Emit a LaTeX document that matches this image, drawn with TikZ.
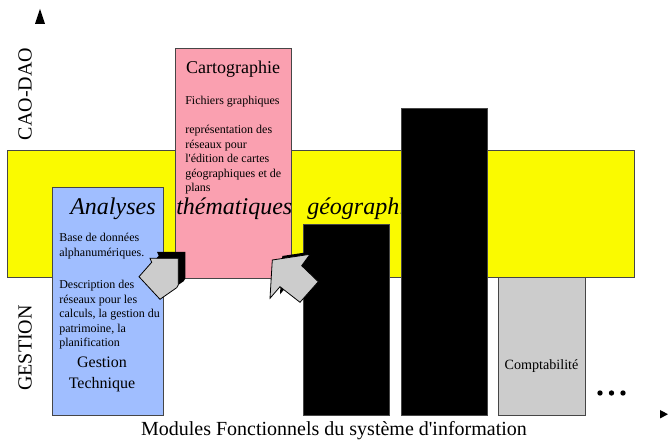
\documentclass[tikz,border=0pt]{standalone}
\usepackage{fontspec}
\setmainfont{Liberation Serif}
\definecolor{sigyellow}{RGB}{250,250,0}
\definecolor{cartopink}{RGB}{250,160,176}
\definecolor{techblue}{RGB}{160,190,255}
\definecolor{comptagray}{RGB}{204,204,204}
\definecolor{edgegray}{RGB}{70,70,70}
\begin{document}
\begin{tikzpicture}[x=0.75pt,y=-0.75pt,
  box/.style={draw=edgegray,line width=0.6pt},
  txt/.style={inner sep=0pt,anchor=base west},
  small/.style={txt,font=\fontsize{9}{10.8}\selectfont},
  big/.style={inner sep=0pt,anchor=base west,font=\fontsize{18}{21}\selectfont\itshape},
  side/.style={inner sep=0pt,rotate=90,font=\fontsize{15}{18}\selectfont},
  blockarrow/.style={fill=comptagray,draw=black,line width=0.6pt,line join=miter},
  arrowshadow/.style={fill=black}]
\useasboundingbox (0,0) rectangle (668,441);
\fill[white] (0,0) rectangle (668,441);

% axes heads
\fill (35,24) -- (45,24) -- (40,9) -- cycle;
\fill (660,410) -- (660,418.5) -- (668,414.2) -- cycle;

% side labels
\node[side] (cao) at (25,94) {CAO-DAO};
\node[side] (sig) at (25,216) {SIG};
\node[side] (gest) at (25,348) {GESTION};

% bands and boxes
\draw[box,fill=sigyellow] (7,150) rectangle (634,277);
\draw[box,fill=cartopink] (175,48) rectangle (291,278);
\draw[box,fill=techblue] (52,187) rectangle (163,415);

% pink texts
\node[inner sep=0pt,anchor=base,font=\fontsize{13.5}{16}\selectfont] (carto) at (233,74) {Cartographie};
\node[small] (fich) at (185,105) {Fichiers graphiques};
\node[small] (c1) at (185,134) {représentation des};
\node[small] (c2) at (185,148.5) {réseaux pour};
\node[small] (c3) at (185,163) {l\textquotesingle édition de cartes};
\node[small] (c4) at (185,177.5) {géographiques et de};
\node[small] (c5) at (185,192) {plans};

% blue texts
\node[small] (b1) at (59,242) {Base de données};
\node[small] (b2) at (59,256.5) {alphanumériques.};
\node[small] (b3) at (59,289) {Description des};
\node[small] (b4) at (59,303.5) {réseaux pour les};
\node[small] (b5) at (59,318) {calculs, la gestion du};
\node[small] (b6) at (59,332.5) {patrimoine, la};
\node[small] (b7) at (59,347) {planification};
\node[inner sep=0pt,anchor=base,font=\fontsize{12}{14}\selectfont] (gt1) at (102,368) {Gestion};
\node[inner sep=0pt,anchor=base,font=\fontsize{12}{14}\selectfont] (gt2) at (102,389) {Technique};

% big italic line
\node[big] (an) at (70,215) {Analyses};
\node[big] (th) at (176,215) {thématiques};
\node[big] (geo) at (307,215) {géographiques};

% black and gray modules
\draw[box,fill=black] (303,224) rectangle (389,415);
\draw[box,fill=black] (401,108) rectangle (487,415);
\draw[box,fill=comptagray] (498,277) rectangle (585,415);
\node[inner sep=0pt,anchor=base,font=\fontsize{10.6}{12}\selectfont] (compta) at (541.5,370) {Comptabilité};

% dots
\fill (600,393) circle (2.7);
\fill (611.5,393) circle (2.7);
\fill (623,393) circle (2.7);

% block arrows
\begin{scope}[shift={(7,-6.5)}]
\fill[arrowshadow] (178.3,258.3) -- (150,258.3) -- (151.7,262.3) -- (139,276.7) -- (160,299.3) -- (176.7,287.7) -- (178.3,285) -- cycle;
\end{scope}
\draw[blockarrow] (178.3,258.3) -- (150,258.3) -- (151.7,262.3) -- (139,276.7) -- (160,299.3) -- (176.7,287.7) -- (178.3,285) -- cycle;

\begin{scope}[shift={(10,-4)}]
\fill[arrowshadow] (272.3,260) -- (310,254.3) -- (301.7,265.7) -- (318.3,281.7) -- (300,302.3) -- (280,286.7) -- (270,298.3) -- cycle;
\end{scope}
\draw[blockarrow] (272.3,260) -- (310,254.3) -- (301.7,265.7) -- (318.3,281.7) -- (300,302.3) -- (280,286.7) -- (270,298.3) -- cycle;

% caption
\node[inner sep=0pt,anchor=base,font=\fontsize{15}{18}\selectfont] (cap) at (334,435.5) {Modules Fonctionnels du système d\textquotesingle information};
\end{tikzpicture}
\end{document}
